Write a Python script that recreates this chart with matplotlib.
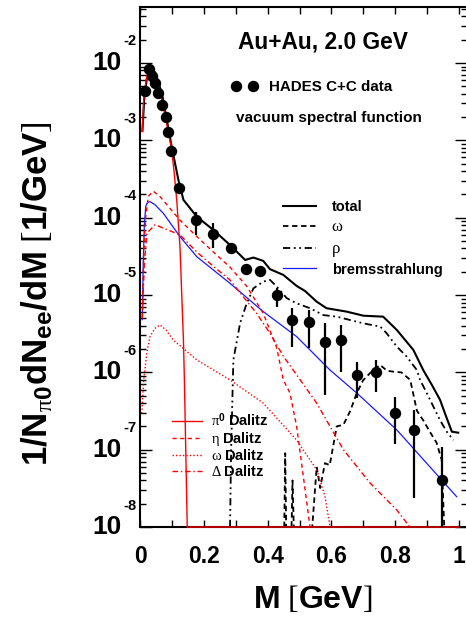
import matplotlib
matplotlib.use('Agg')
import matplotlib.pyplot as plt
import numpy as np
from matplotlib.lines import Line2D
from matplotlib.ticker import MultipleLocator, LogLocator, NullFormatter, FixedLocator

plt.rcParams['font.family'] = ['Liberation Sans', 'DejaVu Sans']
plt.rcParams['mathtext.fontset'] = 'custom'
plt.rcParams['mathtext.rm'] = 'Liberation Serif'
plt.rcParams['mathtext.bf'] = 'Liberation Sans:bold'
plt.rcParams['mathtext.it'] = 'Liberation Serif:italic'

# HADES C+C points
m_data = [0.014, 0.027, 0.035, 0.046, 0.056, 0.069, 0.079, 0.086, 0.096, 0.122,
          0.175, 0.227, 0.285, 0.332, 0.376, 0.428, 0.477, 0.531, 0.580, 0.630,
          0.680, 0.741, 0.800, 0.860, 0.949]
y_data = [4.4e-3, 8.3e-3, 6.8e-3, 5.5e-3, 4.15e-3, 2.9e-3, 2.0e-3, 1.3e-3, 7.2e-4, 2.45e-4,
          9.2e-5, 6.2e-5, 4.0e-5, 2.2e-5, 2.07e-5, 1.0e-5, 4.7e-6, 4.5e-6, 2.45e-6, 2.6e-6,
          9.2e-7, 1.0e-6, 3.0e-7, 1.8e-7, 4.0e-8]
y_lo = [4.4e-3, 8.3e-3, 6.8e-3, 5.5e-3, 4.15e-3, 2.9e-3, 2.0e-3, 1.3e-3, 7.2e-4, 2.45e-4,
        6.0e-5, 4.0e-5, 4.0e-5, 2.2e-5, 2.07e-5, 7.1e-6, 2.15e-6, 2.05e-6, 5.1e-7, 1.0e-6,
        4.6e-7, 5.5e-7, 1.2e-7, 2.4e-8, 1e-9]
y_hi = [4.4e-3, 8.3e-3, 6.8e-3, 5.5e-3, 4.15e-3, 2.9e-3, 2.0e-3, 1.3e-3, 7.2e-4, 2.45e-4,
        1.2e-4, 8.5e-5, 4.0e-5, 2.2e-5, 2.07e-5, 1.22e-5, 6.7e-6, 6.4e-6, 4.3e-6, 4.1e-6,
        1.38e-6, 1.45e-6, 4.8e-7, 3.3e-7, 1.08e-7]

# model curves
m_total = [0.006, 0.012, 0.02, 0.03, 0.045, 0.056, 0.07, 0.082, 0.098, 0.119, 0.135,
           0.177, 0.229, 0.281, 0.329, 0.355, 0.386, 0.407, 0.449, 0.491, 0.517, 0.554,
           0.585, 0.648, 0.701, 0.763, 0.806, 0.858, 0.889, 0.916, 0.942, 0.963, 0.979, 0.999]
y_total = [1.32e-3, 3.55e-3, 6.3e-3, 9.2e-3, 7.6e-3, 5.75e-3, 3.55e-3, 1.9e-3, 8.3e-4, 3.1e-4, 1.7e-4,
           1.03e-4, 6.95e-5, 4.45e-5, 2.84e-5, 3.05e-5, 2.76e-5, 2.16e-5, 1.82e-5, 1.31e-5, 1.13e-5, 8.2e-6,
           6.75e-6, 6.1e-6, 5.4e-6, 5.25e-6, 3.53e-6, 1.95e-6, 1.07e-6, 6.9e-7, 4.4e-7, 2.55e-7, 1.71e-7, 1.66e-7]

m_pi0 = [0.0057, 0.01, 0.015, 0.02, 0.03, 0.04, 0.056, 0.082, 0.098, 0.106, 0.114, 0.124,
         0.135, 0.138, 0.147, 1.0]
y_pi0 = [1.3e-3, 3.2e-3, 5.0e-3, 6.8e-3, 9.0e-3, 7.9e-3, 5.5e-3, 1.67e-3, 7.5e-4, 3.8e-4, 1.66e-4, 4.3e-5,
         2.6e-6, 8.0e-7, 1e-8, 1e-8]

m_eta = [0.0057, 0.01, 0.016, 0.025, 0.04, 0.06, 0.124, 0.177, 0.229, 0.281, 0.334, 0.386,
         0.428, 0.449, 0.47, 0.491, 0.512, 0.533]
y_eta = [5.0e-6, 3.2e-5, 1.0e-4, 1.9e-4, 2.2e-4, 1.9e-4, 9.3e-5, 5.7e-5, 3.6e-5, 2.3e-5, 1.3e-5, 5.8e-6,
         2.1e-6, 8.0e-7, 5.4e-7, 2.0e-7, 4.5e-8, 1e-8]

m_delta = [0.0057, 0.012, 0.02, 0.046, 0.08, 0.124, 0.177, 0.229, 0.281, 0.323, 0.365, 0.407,
           0.45, 0.554, 0.638, 0.722, 0.806, 0.847]
y_delta = [5.0e-6, 2.5e-5, 6.3e-5, 8.1e-5, 7.1e-5, 6.0e-5, 3.6e-5, 2.35e-5, 1.57e-5, 9.5e-6, 5.8e-6, 3.2e-6,
           1.6e-6, 4.0e-7, 1.0e-7, 3.7e-8, 1.66e-8, 1e-8]

m_omdal = [0.004, 0.01, 0.02, 0.03, 0.045, 0.061, 0.08, 0.103, 0.177, 0.281, 0.386, 0.491,
           0.554, 0.58, 0.596]
y_omdal = [2.95e-7, 7.9e-7, 1.78e-6, 2.9e-6, 3.7e-6, 4.1e-6, 3.55e-6, 2.62e-6, 1.45e-6, 8.0e-7, 4.0e-7,
           1.33e-7, 5.5e-8, 2.5e-8, 1e-8]

m_brems = [0.0057, 0.0085, 0.012, 0.0164, 0.022, 0.03, 0.045, 0.0717, 0.124, 0.177, 0.281, 0.386,
           0.491, 0.596, 0.68, 0.806, 0.91, 0.994]
y_brems = [4.8e-6, 2.5e-5, 7.9e-5, 1.39e-4, 1.58e-4, 1.61e-4, 1.48e-4, 1.14e-4, 5.7e-5, 3.13e-5, 1.42e-5,
           6.1e-6, 2.9e-6, 1.07e-6, 5.4e-7, 1.8e-7, 6.0e-8, 2.47e-8]

m_omega = [0.452, 0.455, 0.458, 0.475, 0.478, 0.482, 0.54, 0.554, 0.565, 0.58, 0.595, 0.617,
           0.638, 0.66, 0.68, 0.70, 0.722, 0.753, 0.775, 0.795, 0.82, 0.848, 0.869, 0.889,
           0.91, 0.931, 0.947, 0.955]
y_omega = [1e-8, 9.0e-8, 1e-8, 1e-8, 4.0e-8, 1e-8, 1e-8, 6.0e-8, 3.2e-8, 6.7e-8, 6.3e-8, 2.0e-7,
           2.1e-7, 3.2e-7, 5.4e-7, 7.9e-7, 9.8e-7, 1.25e-6, 1.05e-6, 1.02e-6, 1.0e-6, 8.0e-7, 3.2e-7, 2.4e-7,
           1.7e-7, 1.23e-7, 7.4e-8, 1e-8]

m_rho = [0.2815, 0.285, 0.292, 0.313, 0.334, 0.355, 0.386, 0.407, 0.428, 0.46, 0.491, 0.533,
         0.575, 0.617, 0.659, 0.701, 0.754, 0.774, 0.806, 0.837, 0.869, 0.879, 0.9, 0.921,
         0.942, 0.963, 0.984]
y_rho = [1e-8, 1e-7, 1.45e-6, 4.3e-6, 7.8e-6, 1.22e-5, 1.49e-5, 1.57e-5, 1.29e-5, 9.1e-6, 7.8e-6, 6.75e-6,
         5.5e-6, 5.25e-6, 4.75e-6, 4.3e-6, 3.9e-6, 3.2e-6, 2.15e-6, 1.6e-6, 1.07e-6, 8.0e-7, 5.4e-7, 3.6e-7,
         2.4e-7, 1.71e-7, 1.33e-7]

decades = [-8, -7, -6, -5, -4, -3, -2]
xtick_vals = [0, 0.2, 0.4, 0.6, 0.8, 1.0]
xtick_text = ['0', '0.2', '0.4', '0.6', '0.8', '1']

red = '#ff0000'
blue = '#1a1aff'

fig = plt.figure(figsize=(4.66, 6.18), dpi=100)
ax = fig.add_axes([0.3015, 0.1472, 0.7007, 0.8415])

ax.plot(m_total, y_total, color='black', lw=1.5, zorder=3)
ax.plot(m_omega, y_omega, color='black', lw=1.3, ls=(0, (3, 2)), zorder=3)
ax.plot(m_rho, y_rho, color='black', lw=1.3, ls=(0, (4, 2, 1, 2, 1, 2)), zorder=3)
ax.plot(m_brems, y_brems, color=blue, lw=0.9, zorder=3)
ax.plot(m_eta, y_eta, color=red, lw=1.0, ls=(0, (3, 2.5)), zorder=3)
ax.plot(m_delta, y_delta, color=red, lw=1.0, ls=(0, (4, 2, 1, 2)), zorder=3)
ax.plot(m_omdal, y_omdal, color=red, lw=1.0, ls=(0, (1, 1.5)), zorder=3)
ax.plot(m_pi0, y_pi0, color=red, lw=1.0, zorder=4, clip_on=False)

yv = np.array(y_data)
yerr = [yv - np.array(y_lo), np.array(y_hi) - yv]
ax.errorbar(m_data, y_data, yerr=yerr, fmt='o', color='black', ms=7.2,
            elinewidth=1.6, capsize=0, zorder=5)

ax.set_yscale('log')
ax.set_xlim(0, 1.0267)
ax.set_ylim(1e-8, 0.053)

ax.xaxis.set_major_locator(FixedLocator(xtick_vals))
ax.set_xticklabels(xtick_text, fontsize=16.5, fontweight='bold')
ax.xaxis.set_minor_locator(MultipleLocator(0.1))
ax.yaxis.set_major_locator(LogLocator(base=10, numticks=20))
ax.yaxis.set_minor_locator(LogLocator(base=10, subs=np.arange(2, 10), numticks=20))
ax.yaxis.set_minor_formatter(NullFormatter())
ax.tick_params(which='both', direction='in', top=True, right=True, labelleft=False)
ax.tick_params(axis='x', which='both', length=5, width=1, pad=13)
ax.tick_params(axis='y', which='major', length=8.6, width=1)
ax.tick_params(axis='y', which='minor', length=4.3, width=1)
for sp in ax.spines.values():
    sp.set_linewidth(1.5)

for d in decades:
    ax.annotate('10', xy=(0, 10.0 ** d), xycoords=('axes fraction', 'data'),
                xytext=(-13.7, 0), textcoords='offset points', ha='right', va='center',
                fontsize=19, fontweight='bold')
    ax.annotate(str(d), xy=(0, 10.0 ** d), xycoords=('axes fraction', 'data'),
                xytext=(-12.5, 15.5), textcoords='offset points', ha='left', va='center',
                fontsize=10.5, fontweight='bold')

# upper legend: total and vector mesons
h_total = Line2D([], [], color='black', lw=1.5)
h_omega = Line2D([], [], color='black', lw=1.3, ls=(0, (3, 2)))
h_rho = Line2D([], [], color='black', lw=1.3, ls=(0, (4, 2, 1, 2, 1, 2)))
h_brems = Line2D([], [], color=blue, lw=0.9)
leg1 = ax.legend([h_total, h_omega, h_rho, h_brems], ['total', 'ω', 'ρ', 'bremsstrahlung'],
                 loc='upper left', bbox_to_anchor=(0.4378, 0.629), frameon=False, borderpad=0,
                 borderaxespad=0, handlelength=2.2, handletextpad=1.1, labelspacing=0.38,
                 prop={'size': 10.5, 'weight': 'bold'})
for t in leg1.get_texts()[1:3]:
    t.set_fontfamily('Liberation Serif')
    t.set_fontweight('normal')
    t.set_fontsize(12)
ax.add_artist(leg1)

# lower legend: Dalitz decays
h_pi0 = Line2D([], [], color=red, lw=1.0)
h_eta = Line2D([], [], color=red, lw=1.0, ls=(0, (3, 2.5)))
h_omd = Line2D([], [], color=red, lw=1.0, ls=(0, (1, 1.5)))
h_del = Line2D([], [], color=red, lw=1.0, ls=(0, (4, 2, 1, 2)))
leg2 = ax.legend([h_pi0, h_eta, h_omd, h_del],
                 [r'$\mathrm{π}^{\mathbf{0}}\ \mathbf{Dalitz}$', r'$\mathrm{η}\ \mathbf{Dalitz}$',
                  r'$\mathrm{ω}\ \mathbf{Dalitz}$', r'$\mathrm{Δ}\ \mathbf{Dalitz}$'],
                 loc='upper left', bbox_to_anchor=(0.0959, 0.223), frameon=False, borderpad=0,
                 borderaxespad=0, handlelength=2.1, handletextpad=0.6, labelspacing=0.05,
                 prop={'size': 10.5})
ax.add_artist(leg2)

# data legend
h_data = Line2D([], [], color='black', marker='o', ms=7.2, ls='none')
leg3 = ax.legend([h_data], ['HADES C+C data'], numpoints=2, loc='upper left',
                 bbox_to_anchor=(0.2796, 0.8596), frameon=False, borderpad=0, borderaxespad=0,
                 handlelength=1.67, handletextpad=0.77, prop={'size': 10.9, 'weight': 'bold'})

ax.text(0.5576, 0.9333, 'Au+Au, 2.0 GeV', transform=ax.transAxes, ha='center', va='center',
        fontsize=16.4, fontweight='bold')
ax.text(0.2934, 0.786, 'vacuum spectral function', transform=ax.transAxes, ha='left',
        va='center', fontsize=11, fontweight='bold')

fig.text(313 / 466, 1 - 600 / 618, r'$\mathbf{M}\ [\mathbf{GeV}]$', ha='center', va='center',
         fontsize=23)
fig.text(37 / 466, 1 - 294 / 618,
         r'$\mathbf{1/N}_{\mathrm{π}\mathbf{0}}\mathbf{dN}_{\mathbf{ee}}\mathbf{/dM}\ [\mathbf{1/GeV}]$',
         rotation=90, ha='center', va='center', fontsize=25)

fig.savefig('out.png', dpi=100)
